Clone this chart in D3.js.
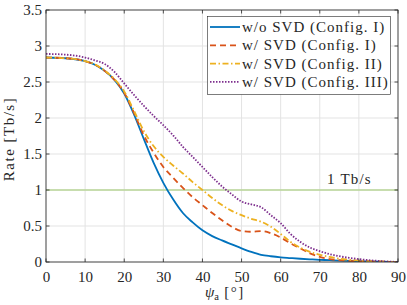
<!DOCTYPE html>
<html><head><meta charset="utf-8">
<script src="https://cdn.jsdelivr.net/npm/d3@7"></script>
<style>
html,body{margin:0;padding:0;background:#fff;}
svg{display:block;}
text{font-family:"Liberation Serif","Times New Roman",serif;fill:#262626;}
</style></head>
<body><svg id="c" width="407" height="305"></svg>
<script>
const psi = [0,5,10,12.5,15,17.5,20,22.5,25,27.5,30,32.5,35,37.5,40,42.5,45,47.5,50,52.5,55,57.5,60,62.5,65,67.5,70,72.5,75,80,85,90];
const woSvdI =  [2.84,2.83,2.79,2.74,2.655,2.53,2.34,2.05,1.71,1.38,1.10,0.87,0.68,0.55,0.44,0.36,0.30,0.245,0.19,0.14,0.10,0.08,0.065,0.055,0.045,0.037,0.03,0.025,0.02,0.012,0.006,0];
const wSvdI =   [2.84,2.83,2.79,2.74,2.655,2.53,2.35,2.07,1.76,1.52,1.32,1.17,1.03,0.90,0.79,0.68,0.58,0.49,0.43,0.42,0.43,0.40,0.34,0.26,0.19,0.12,0.07,0.04,0.025,0.01,0.005,0];
const wSvdII =  [2.84,2.83,2.79,2.745,2.66,2.54,2.37,2.10,1.82,1.61,1.46,1.34,1.23,1.11,1.00,0.89,0.79,0.71,0.65,0.60,0.56,0.49,0.39,0.28,0.20,0.14,0.10,0.07,0.045,0.02,0.008,0];
const wSvdIII = [2.89,2.88,2.84,2.80,2.75,2.64,2.48,2.32,2.17,2.03,1.90,1.76,1.60,1.46,1.32,1.18,1.05,0.94,0.84,0.80,0.76,0.65,0.54,0.39,0.28,0.20,0.15,0.11,0.08,0.04,0.015,0];
const seriesNames = ["w/o SVD (Config. I)","w/ SVD (Config. I)","w/ SVD (Config. II)","w/ SVD (Config. III)"];
const xTicks = [0,10,20,30,40,50,60,70,80,90];
const yTicks = [0,0.5,1,1.5,2,2.5,3,3.5];
const threshold = 1;
const thresholdLabel = "1 Tb/s";

const svg = d3.select("#c");
const L=46,R=398,T=10,B=262;
const FS=15, LS=1.0;
const x = d3.scaleLinear().domain([0,90]).range([L,R]);
const y = d3.scaleLinear().domain([0,3.5]).range([B,T]);

// grid
const g = svg.append("g");
g.selectAll(".gx").data(xTicks).join("line").attr("x1",d=>x(d)).attr("x2",d=>x(d)).attr("y1",T).attr("y2",B).attr("stroke","#e3e3e3").attr("stroke-width",1);
g.selectAll(".gy").data(yTicks).join("line").attr("y1",d=>y(d)).attr("y2",d=>y(d)).attr("x1",L).attr("x2",R).attr("stroke","#e3e3e3").attr("stroke-width",1);

// threshold line
svg.append("line").attr("x1",L).attr("x2",R).attr("y1",y(threshold)).attr("y2",y(threshold)).attr("stroke","#b9d697").attr("stroke-width",1.3);
svg.append("text").attr("x",327).attr("y",y(threshold)-6.5).attr("font-size",FS).attr("letter-spacing",1.2).text(thresholdLabel);

const styles = [
  {c:"#0072BD",d:null},
  {c:"#D95319",d:"6,4"},
  {c:"#EDB120",d:"6,2.5,1.5,2.5"},
  {c:"#7E2F8E",d:"1.5,1.5"}
];
const data = [woSvdI,wSvdI,wSvdII,wSvdIII];
const line = d3.line().x((d,i)=>x(psi[i])).y(d=>y(d)).curve(d3.curveMonotoneX);
svg.append("clipPath").attr("id","cp").append("rect").attr("x",L).attr("y",T).attr("width",R-L).attr("height",B-T);
data.forEach((s,k)=>{
  svg.append("path").attr("d",line(s)).attr("fill","none").attr("stroke",styles[k].c).attr("stroke-width",1.8)
    .attr("stroke-dasharray",styles[k].d).attr("clip-path","url(#cp)");
});

// axes box
const ax = svg.append("g");
ax.append("rect").attr("x",L).attr("y",T).attr("width",R-L).attr("height",B-T).attr("fill","none").attr("stroke","#262626").attr("stroke-width",0.8);
const xa = d3.axisBottom(x).tickValues(xTicks).tickSize(0).tickPadding(9).tickFormat(d3.format("d"));
const xg = svg.append("g").attr("transform",`translate(0,${B})`).call(xa);
const ya = d3.axisLeft(y).tickValues(yTicks).tickSize(0).tickPadding(4).tickFormat(d=>String(d));
const yg = svg.append("g").attr("transform",`translate(${L},0)`).call(ya);
[xg,yg].forEach(a=>{a.select(".domain").remove(); a.selectAll("text").attr("font-size",FS).attr("font-family","Liberation Serif, serif").attr("fill","#262626");});
// inward ticks
const tl=3.5;
xTicks.forEach(d=>{
  ax.append("line").attr("x1",x(d)).attr("x2",x(d)).attr("y1",B).attr("y2",B-tl).attr("stroke","#262626").attr("stroke-width",0.8);
  ax.append("line").attr("x1",x(d)).attr("x2",x(d)).attr("y1",T).attr("y2",T+tl).attr("stroke","#262626").attr("stroke-width",0.8);
});
yTicks.forEach(d=>{
  ax.append("line").attr("y1",y(d)).attr("y2",y(d)).attr("x1",L).attr("x2",L+tl).attr("stroke","#262626").attr("stroke-width",0.8);
  ax.append("line").attr("y1",y(d)).attr("y2",y(d)).attr("x1",R).attr("x2",R-tl).attr("stroke","#262626").attr("stroke-width",0.8);
});

// axis labels
svg.append("text").attr("transform",`translate(14,139) rotate(-90)`).attr("text-anchor","middle").attr("font-size",FS).attr("letter-spacing",1.5).text("Rate [Tb/s]");
const xl = svg.append("text").attr("x",205).attr("y",297).attr("font-size",FS);
xl.append("tspan").attr("font-style","italic").text("ψ");
xl.append("tspan").attr("font-size",10.5).attr("dy",3).text("a");
xl.append("tspan").attr("dy",-3).attr("letter-spacing",1.5).text(" [°]");

// legend
const lg = svg.append("g");
lg.append("rect").attr("x",207.5).attr("y",16.5).attr("width",183).attr("height",78).attr("fill","#fff").attr("stroke","#262626").attr("stroke-width",0.6);
seriesNames.forEach((n,k)=>{
  const yy = 27+k*18.3;
  lg.append("line").attr("x1",210).attr("x2",240).attr("y1",yy).attr("y2",yy).attr("stroke",styles[k].c).attr("stroke-width",1.8).attr("stroke-dasharray",styles[k].d);
  lg.append("text").attr("x",242).attr("y",yy+5).attr("font-size",FS).attr("letter-spacing",LS).text(n);
});
</script></body></html>
